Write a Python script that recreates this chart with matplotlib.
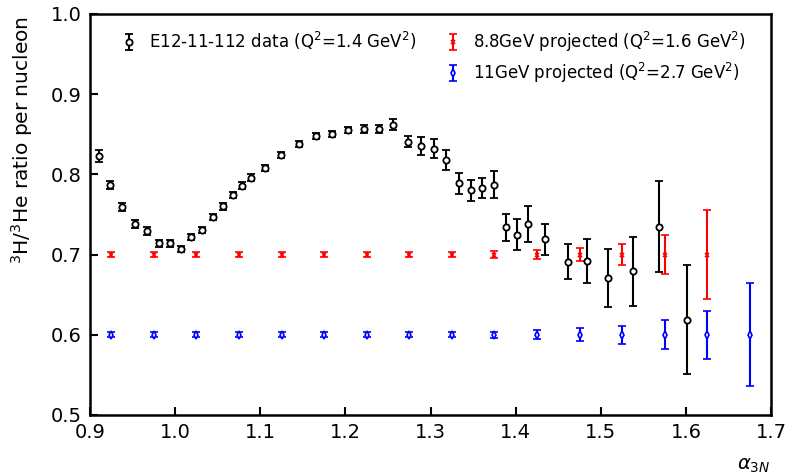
import numpy as np
import matplotlib
matplotlib.use("Agg")
import matplotlib.pyplot as plt
from matplotlib.lines import Line2D

# E12-11-112 data
alpha_data = [0.911, 0.924, 0.938, 0.953, 0.967, 0.981, 0.994, 1.007, 1.019, 1.032,
              1.044, 1.056, 1.068, 1.079, 1.089, 1.106, 1.124, 1.146, 1.165, 1.184,
              1.203, 1.222, 1.240, 1.256, 1.273, 1.289, 1.304, 1.318, 1.334, 1.347,
              1.361, 1.375, 1.389, 1.402, 1.415, 1.435, 1.461, 1.484, 1.509, 1.538,
              1.568, 1.601]
ratio_data = [0.823, 0.787, 0.759, 0.738, 0.730, 0.714, 0.714, 0.707, 0.722, 0.731,
              0.747, 0.760, 0.774, 0.786, 0.796, 0.808, 0.824, 0.838, 0.848, 0.850,
              0.855, 0.857, 0.857, 0.862, 0.841, 0.835, 0.832, 0.818, 0.789, 0.780,
              0.783, 0.787, 0.734, 0.725, 0.738, 0.719, 0.691, 0.692, 0.671, 0.679,
              0.735, 0.619]
err_data = [0.007, 0.005, 0.005, 0.005, 0.005, 0.004, 0.004, 0.004, 0.004, 0.004,
            0.004, 0.004, 0.004, 0.004, 0.004, 0.004, 0.004, 0.004, 0.004, 0.004,
            0.004, 0.005, 0.005, 0.007, 0.007, 0.011, 0.012, 0.013, 0.013, 0.013,
            0.013, 0.017, 0.017, 0.019, 0.022, 0.019, 0.022, 0.028, 0.036, 0.043,
            0.057, 0.068]

# 8.8 GeV projection
alpha_88 = [0.925, 0.975, 1.025, 1.075, 1.125, 1.175, 1.225, 1.275, 1.325, 1.375,
            1.425, 1.475, 1.525, 1.575, 1.625]
ratio_88 = [0.70] * 15
err_88 = [0.003, 0.003, 0.003, 0.003, 0.003, 0.003, 0.003, 0.003, 0.003, 0.004,
          0.0055, 0.008, 0.013, 0.024, 0.055]

# 11 GeV projection
alpha_11 = [0.925, 0.975, 1.025, 1.075, 1.125, 1.175, 1.225, 1.275, 1.325, 1.375,
            1.425, 1.475, 1.525, 1.575, 1.625, 1.675]
ratio_11 = [0.60] * 16
err_11 = [0.003, 0.003, 0.003, 0.003, 0.003, 0.003, 0.003, 0.003, 0.003, 0.004,
          0.0055, 0.008, 0.011, 0.018, 0.030, 0.064]

fig = plt.figure(figsize=(7.86, 4.74), dpi=100)
ax = fig.add_axes([0.1145, 0.1245, 0.8665, 0.846])

h1 = ax.errorbar(alpha_data, ratio_data, yerr=err_data, fmt='o', color='black',
                 mfc='white', mec='black', ms=4.5, mew=1.3, elinewidth=1.5,
                 capsize=3, capthick=1.5,
                 label=r"E12-11-112 data (Q$^2$=1.4 GeV$^2$)")
h2 = ax.errorbar(alpha_88, ratio_88, yerr=err_88, fmt='x', color='red',
                 ms=3, mew=1.2, elinewidth=1.5, capsize=3, capthick=1.5,
                 label=r"8.8GeV projected (Q$^2$=1.6 GeV$^2$)")
h3 = ax.errorbar(alpha_11, ratio_11, yerr=err_11, fmt='d', color='blue',
                 mfc='white', mec='blue', ms=4, mew=1.2, elinewidth=1.5,
                 capsize=3, capthick=1.5,
                 label=r"11GeV projected (Q$^2$=2.7 GeV$^2$)")

# empty slot so the black entry sits alone in the first column
blank = Line2D([], [], linestyle='none', marker='none')
ax.legend([h1, blank, h2, h3],
          [h1.get_label(), "", h2.get_label(), h3.get_label()],
          ncol=2, loc='upper left', frameon=False, fontsize=12,
          bbox_to_anchor=(0.02, 0.998), columnspacing=1.6, handletextpad=0.6,
          handlelength=1.2, labelspacing=0.42)

ax.set_xlim(0.9, 1.7)
ax.set_ylim(0.5, 1.0)
ax.set_xticks(np.arange(0.9, 1.71, 0.1))
ax.set_yticks(np.arange(0.5, 1.01, 0.1))
ax.xaxis.set_major_formatter(plt.FormatStrFormatter('%.1f'))
ax.yaxis.set_major_formatter(plt.FormatStrFormatter('%.1f'))
ax.tick_params(direction='in', length=6, width=1.5, labelsize=14, pad=6)
for s in ax.spines.values():
  s.set_linewidth(1.8)

ax.set_ylabel(r"$^3$H/$^3$He ratio per nucleon", fontsize=14.5)
ax.yaxis.set_label_coords(-0.081, 0.686)
ax.text(0.974, -0.125, r"$\alpha_{3N}$", transform=ax.transAxes,
        fontsize=14, ha='center', va='center')

fig.savefig("out.png", dpi=100)
